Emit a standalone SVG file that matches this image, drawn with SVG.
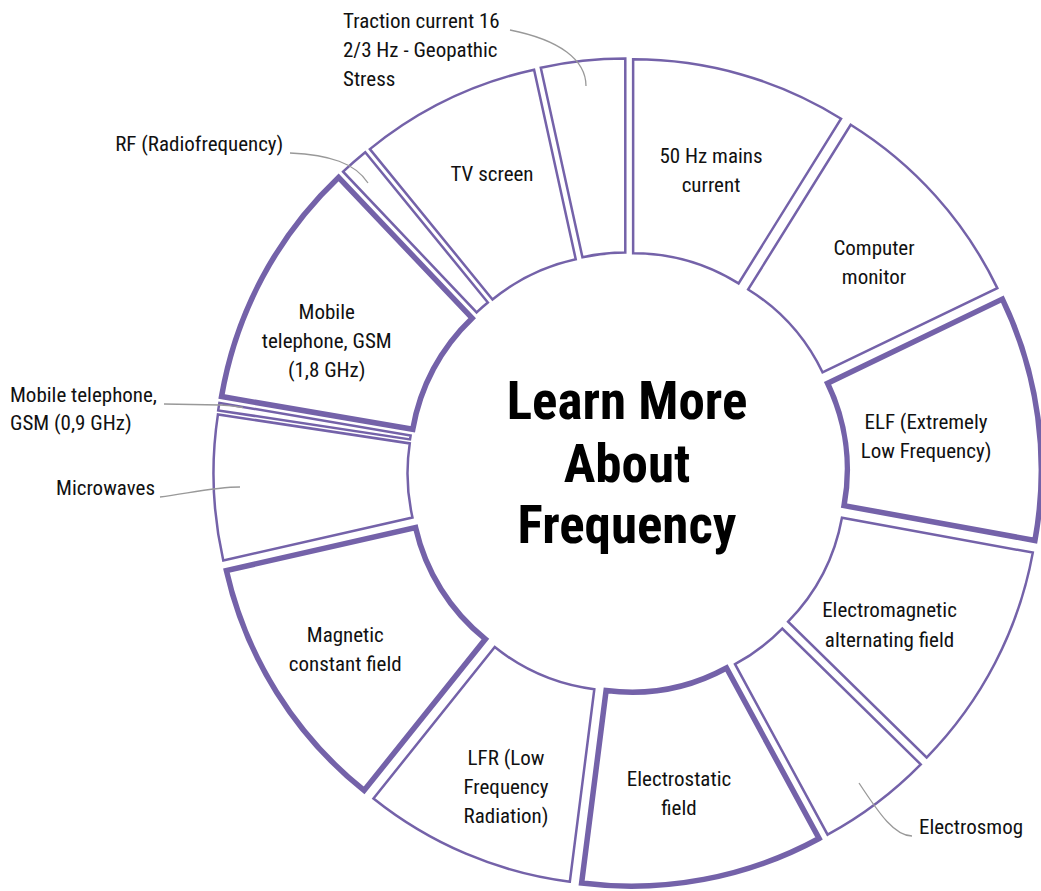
<svg xmlns="http://www.w3.org/2000/svg" width="1041" height="891" viewBox="0 0 1041 891">
<style>
.seg{fill:#fff;stroke:#7462a9;stroke-width:2.5;stroke-linejoin:miter}
.hl{stroke-width:5.5}
.lbl{font-family:'Roboto Condensed',Roboto,'Liberation Sans Narrow',sans-serif;font-stretch:condensed;font-size:21px;fill:#111;text-anchor:middle}
.st{text-anchor:start}
.en{text-anchor:end}
.title{font-family:'Roboto Condensed',Roboto,sans-serif;font-stretch:condensed;font-weight:bold;font-size:53px;fill:#000;text-anchor:middle}
.lead{fill:none;stroke:#999;stroke-width:1.3}
</style>
<rect width="1041" height="891" fill="#fff"/>
<g id="n-50hz" transform="translate(627.5 472.5) rotate(15.95) translate(0 -20.5)"><path class="seg" d="M-108.13,-378.35 A393.5,393.5 0 0 1 108.13,-378.35 L54.82,-191.82 A199.5,199.5 0 0 0 -54.82,-191.82 Z"/></g>
<g id="n-computer" transform="translate(627.5 472.5) rotate(48.1) translate(0 -20.5)"><path class="seg" d="M-109.78,-377.87 A393.5,393.5 0 0 1 109.78,-377.87 L55.66,-191.58 A199.5,199.5 0 0 0 -55.66,-191.58 Z"/></g>
<g id="n-elf" transform="translate(627.5 472.5) rotate(82.325) translate(0 -20.5)"><path class="seg hl" d="M-121.76,-374.19 A393.5,393.5 0 0 1 121.76,-374.19 L61.73,-189.71 A199.5,199.5 0 0 0 -61.73,-189.71 Z"/></g>
<g id="n-emfield" transform="translate(627.5 472.5) rotate(117.4) translate(0 -20.5)"><path class="seg" d="M-115.38,-376.21 A393.5,393.5 0 0 1 115.38,-376.21 L58.5,-190.73 A199.5,199.5 0 0 0 -58.5,-190.73 Z"/></g>
<g id="n-electrosmog" transform="translate(627.5 472.5) rotate(142.975) translate(0 -20.5)"><path class="seg" d="M-58.34,-389.15 A393.5,393.5 0 0 1 58.34,-389.15 L29.58,-197.3 A199.5,199.5 0 0 0 -29.58,-197.3 Z"/></g>
<g id="n-electrostatic" transform="translate(627.5 472.5) rotate(169.375) translate(0 -20.5)"><path class="seg hl" d="M-120.78,-374.5 A393.5,393.5 0 0 1 120.78,-374.5 L61.24,-189.87 A199.5,199.5 0 0 0 -61.24,-189.87 Z"/></g>
<g id="n-lfr" transform="translate(627.5 472.5) rotate(202.975) translate(0 -20.5)"><path class="seg" d="M-106.65,-378.77 A393.5,393.5 0 0 1 106.65,-378.77 L54.07,-192.03 A199.5,199.5 0 0 0 -54.07,-192.03 Z"/></g>
<g id="n-magnetic" transform="translate(627.5 472.5) rotate(237.95) translate(0 -20.5)"><path class="seg hl" d="M-129.73,-371.5 A393.5,393.5 0 0 1 129.73,-371.5 L65.77,-188.35 A199.5,199.5 0 0 0 -65.77,-188.35 Z"/></g>
<g id="n-microwaves" transform="translate(627.5 472.5) rotate(267.9) translate(0 -20.5)"><path class="seg" d="M-73.06,-386.66 A393.5,393.5 0 0 1 73.06,-386.66 L37.04,-196.03 A199.5,199.5 0 0 0 -37.04,-196.03 Z"/></g>
<g id="n-gsm09" transform="translate(627.5 472.5) rotate(279.15) translate(0 -20.5)"><path class="seg" d="M-3.78,-393.48 A393.5,393.5 0 0 1 3.78,-393.48 L1.92,-199.49 A199.5,199.5 0 0 0 -1.92,-199.49 Z"/></g>
<g id="n-gsm18" transform="translate(627.5 472.5) rotate(298.1) translate(0 -20.5)"><path class="seg hl" d="M-124.21,-373.38 A393.5,393.5 0 0 1 124.21,-373.38 L62.97,-189.3 A199.5,199.5 0 0 0 -62.97,-189.3 Z"/></g>
<g id="n-rf" transform="translate(627.5 472.5) rotate(318.65) translate(0 -20.5)"><path class="seg" d="M-14.76,-393.22 A393.5,393.5 0 0 1 14.76,-393.22 L7.49,-199.36 A199.5,199.5 0 0 0 -7.49,-199.36 Z"/></g>
<g id="n-tv" transform="translate(627.5 472.5) rotate(334.2) translate(0 -20.5)"><path class="seg" d="M-91.19,-382.79 A393.5,393.5 0 0 1 91.19,-382.79 L46.23,-194.07 A199.5,199.5 0 0 0 -46.23,-194.07 Z"/></g>
<g id="n-traction" transform="translate(627.5 472.5) rotate(353.8) translate(0 -20.5)"><path class="seg" d="M-42.5,-391.2 A393.5,393.5 0 0 1 42.5,-391.2 L21.55,-198.33 A199.5,199.5 0 0 0 -21.55,-198.33 Z"/></g>
<g id="connectors">
<path class="lead" d="M510,30 C560,40 586,60 586,86"/>
<path class="lead" d="M290,153 C330,155 355,163 368,183"/>
<path class="lead" d="M164,404 L220,405 Q232,405.5 243,407.5"/>
<path class="lead" d="M160,497 C190,493 215,487 240,487"/>
<path class="lead" d="M912,836 C895,836 880,815 859,783"/>
</g>
<g id="labels">
<text class="lbl st" x="343" y="28.3">Traction current 16</text>
<text class="lbl st" x="343" y="57.3">2/3 Hz - Geopathic</text>
<text class="lbl st" x="343" y="86.3">Stress</text>
<text class="lbl" x="492" y="180.7">TV screen</text>
<text class="lbl" x="711" y="162.7">50 Hz mains</text>
<text class="lbl" x="711" y="191.7">current</text>
<text class="lbl" x="874" y="255">Computer</text>
<text class="lbl" x="874" y="284">monitor</text>
<text class="lbl" x="926" y="429.3">ELF (Extremely</text>
<text class="lbl" x="926" y="458">Low Frequency)</text>
<text class="lbl" x="889.5" y="617.3">Electromagnetic</text>
<text class="lbl" x="889.5" y="646.5">alternating field</text>
<text class="lbl st" x="919" y="834.3">Electrosmog</text>
<text class="lbl" x="679" y="786">Electrostatic</text>
<text class="lbl" x="679" y="815">field</text>
<text class="lbl" x="506" y="765">LFR (Low</text>
<text class="lbl" x="506" y="794">Frequency</text>
<text class="lbl" x="506" y="822.7">Radiation)</text>
<text class="lbl" x="345.3" y="641.7">Magnetic</text>
<text class="lbl" x="345.3" y="671">constant field</text>
<text class="lbl en" x="155" y="495">Microwaves</text>
<text class="lbl st" x="10" y="401.7">Mobile telephone,</text>
<text class="lbl st" x="10" y="430.3">GSM (0,9 GHz)</text>
<text class="lbl" x="326.7" y="319.3">Mobile</text>
<text class="lbl" x="326.7" y="348.3">telephone, GSM</text>
<text class="lbl" x="326.7" y="376.7">(1,8 GHz)</text>
<text class="lbl en" x="283.3" y="151">RF (Radiofrequency)</text>
<text class="title" x="627" y="419.3">Learn More</text>
<text class="title" x="627" y="481.7">About</text>
<text class="title" x="627" y="543.3">Frequency</text>
</g>
</svg>
